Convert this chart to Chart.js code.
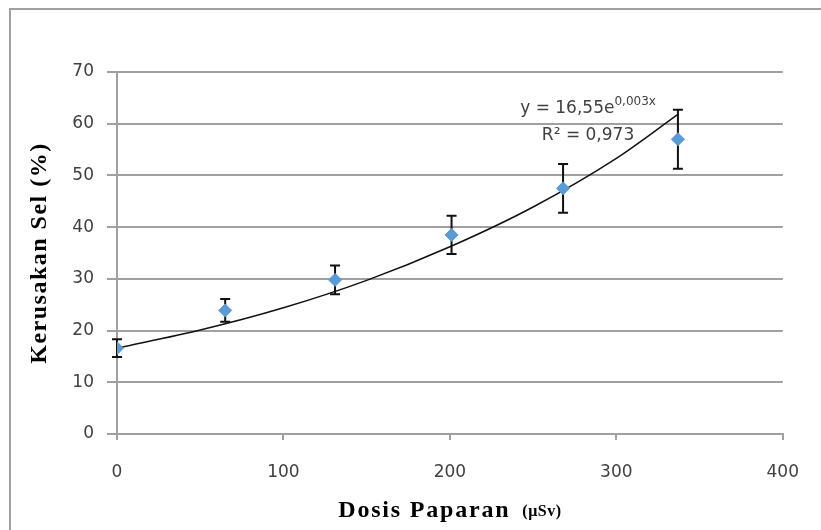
<!DOCTYPE html>
<html>
<head>
<meta charset="utf-8">
<script src="https://cdn.jsdelivr.net/npm/chart.js@4"></script>
<style>
  body { margin: 0; background: #fff; }
  #wrap { position: relative; width: 821px; height: 530px; }
</style>
</head>
<body>
<div id="wrap"><canvas id="grafico" width="821" height="530"></canvas></div>
<script>
// data
var dosis = [0, 65, 131, 201, 268, 337];
var kerusakan = [16.6, 23.9, 29.8, 38.5, 47.5, 57.0];
var galat = [1.7, 2.2, 2.8, 3.7, 4.7, 5.7];

// trendline as seen in the picture
var trendX = [0, 50, 100, 150, 200, 250, 300, 337];
var trendY = [16.6, 20.1, 24.4, 29.7, 36.2, 43.9, 53.3, 61.8];

var xTicks = [0, 100, 200, 300, 400];
var yTicks = [0, 10, 20, 30, 40, 50, 60, 70];

var persamaan = 'y = 16,55e';
var pangkat = '0,003x';
var rKuadrat = '0,973';

var abu = '#a0a0a0';
var teks = '#404040';

var titik = dosis.map(function (d, i) { return { x: d, y: kerusakan[i] }; });
var garis = trendX.map(function (d, i) { return { x: d, y: trendY[i] }; });

// outer frame, error bars, titles, equation label
var hiasan = {
    id: 'hiasan',
    beforeDraw: function (chart) {
        var ctx = chart.ctx;
        ctx.save();
        ctx.fillStyle = '#fff';
        ctx.fillRect(0, 0, chart.width, chart.height);
        ctx.strokeStyle = abu;
        ctx.lineWidth = 2;
        ctx.strokeRect(10, 9, 900, 700);
        ctx.restore();
    },
    beforeDatasetsDraw: function (chart) {
        var ctx = chart.ctx;
        var sx = chart.scales.x, sy = chart.scales.y;
        ctx.save();
        ctx.strokeStyle = '#111';
        ctx.lineWidth = 2;
        dosis.forEach(function (d, i) {
            var px = sx.getPixelForValue(d);
            var atas = sy.getPixelForValue(kerusakan[i] + galat[i]);
            var bawah = sy.getPixelForValue(kerusakan[i] - galat[i]);
            ctx.beginPath();
            ctx.moveTo(px, atas); ctx.lineTo(px, bawah);
            ctx.moveTo(px - 5, atas); ctx.lineTo(px + 5, atas);
            ctx.moveTo(px - 5, bawah); ctx.lineTo(px + 5, bawah);
            ctx.stroke();
        });
        ctx.restore();
    },
    afterDraw: function (chart) {
        var ctx = chart.ctx;
        var sx = chart.scales.x, sy = chart.scales.y;
        var area = chart.chartArea;
        ctx.save();

        // equation
        var cx = sx.getPixelForValue(283);
        var by = sy.getPixelForValue(62.1);
        ctx.fillStyle = teks;
        ctx.textBaseline = 'alphabetic';
        ctx.font = '17px "DejaVu Sans"';
        var w1 = ctx.measureText(persamaan).width;
        ctx.font = '12px "DejaVu Sans"';
        var w2 = ctx.measureText(pangkat).width;
        var kiri = cx - (w1 + w2) / 2;
        ctx.font = '17px "DejaVu Sans"';
        ctx.textAlign = 'left';
        ctx.fillText(persamaan, kiri, by);
        ctx.font = '12px "DejaVu Sans"';
        ctx.fillText(pangkat, kiri + w1, by - 8);

        ctx.font = '17px "DejaVu Sans"';
        ctx.textAlign = 'center';
        ctx.fillText('R\u00B2 = ' + rKuadrat, cx, sy.getPixelForValue(56.9));

        // x title
        ctx.fillStyle = '#000';
        ctx.textAlign = 'left';
        ctx.letterSpacing = '1.8px';
        ctx.font = 'bold 24px "Liberation Serif"';
        var t1 = 'Dosis Paparan';
        var a = ctx.measureText(t1).width;
        ctx.letterSpacing = '0.5px';
        ctx.font = 'bold 16px "Liberation Serif"';
        var t2 = '(\u03BCSv)';
        var b = ctx.measureText(t2).width;
        var gap = 12;
        var mulai = (area.left + area.right) / 2 - (a + gap + b) / 2;
        ctx.letterSpacing = '1.8px';
        ctx.font = 'bold 24px "Liberation Serif"';
        ctx.fillText(t1, mulai, 517);
        ctx.letterSpacing = '0.5px';
        ctx.font = 'bold 16px "Liberation Serif"';
        ctx.fillText(t2, mulai + a + gap, 516);

        // y title
        ctx.letterSpacing = '1.5px';
        ctx.translate(40, (area.top + area.bottom) / 2);
        ctx.rotate(-Math.PI / 2);
        ctx.textAlign = 'center';
        ctx.textBaseline = 'middle';
        ctx.font = 'bold 24px "Liberation Serif"';
        ctx.fillText('Kerusakan Sel (%)', 0, 0);
        ctx.restore();
    }
};

var graf = document.getElementById('grafico').getContext('2d');

var grafico = new Chart(graf, {
    type: 'scatter',
    data: {
        datasets: [{
            label: 'trend',
            data: garis,
            showLine: true,
            borderColor: '#111',
            borderWidth: 1.5,
            pointRadius: 0,
            cubicInterpolationMode: 'monotone',
            order: 2
        }, {
            label: 'Kerusakan Sel',
            data: titik,
            pointStyle: 'rectRot',
            pointRadius: 6.5,
            pointHoverRadius: 6.5,
            backgroundColor: '#5b9bd5',
            borderColor: '#5b9bd5',
            borderWidth: 1,
            order: 1
        }]
    },
    options: {
        responsive: false,
        animation: false,
        events: [],
        plugins: {
            legend: { display: false },
            tooltip: { enabled: false }
        },
        layout: {
            padding: { left: 0, right: 36, top: 72, bottom: 0 }
        },
        scales: {
            x: {
                type: 'linear',
                min: 0,
                max: 400,
                afterBuildTicks: function (s) { s.ticks = xTicks.map(function (v) { return { value: v }; }); },
                afterFit: function (s) { s.height = 96; },
                ticks: {
                    color: teks,
                    font: { family: 'DejaVu Sans', size: 17 },
                    padding: 22,
                    maxRotation: 0
                },
                grid: {
                    drawOnChartArea: false,
                    drawTicks: true,
                    tickLength: 6,
                    color: abu,
                    lineWidth: 2
                },
                border: { color: abu, width: 2 }
            },
            y: {
                min: 0,
                max: 70,
                afterBuildTicks: function (s) { s.ticks = yTicks.map(function (v) { return { value: v }; }); },
                afterFit: function (s) { s.width = 117; },
                ticks: {
                    color: teks,
                    font: { family: 'DejaVu Sans', size: 17 },
                    padding: 13
                },
                grid: {
                    color: abu,
                    lineWidth: 2,
                    tickLength: 10
                },
                border: { color: abu, width: 2 }
            }
        }
    },
    plugins: [hiasan]
});
</script>
</body>
</html>
